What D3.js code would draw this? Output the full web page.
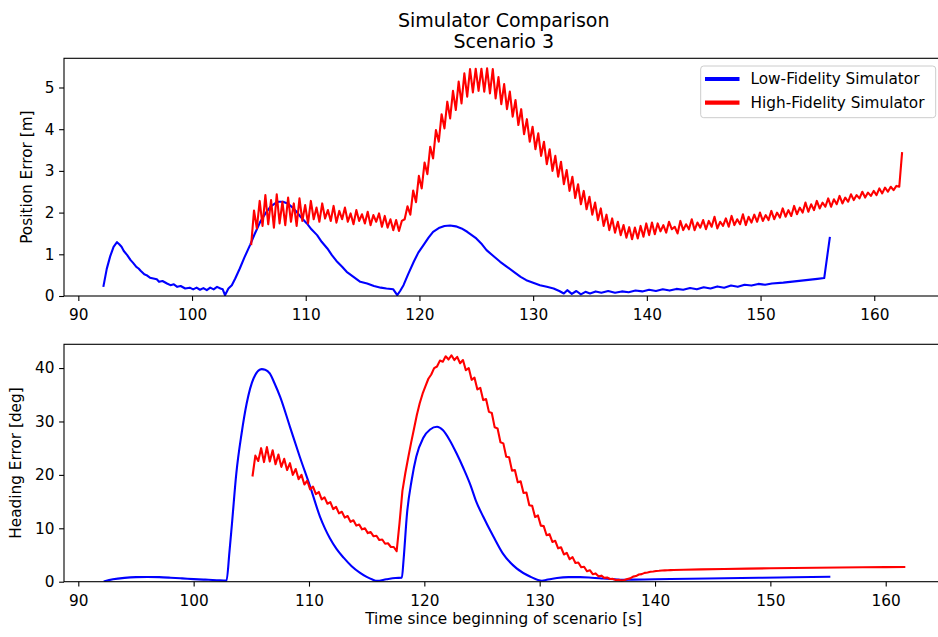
<!DOCTYPE html>
<html>
<head>
<meta charset="utf-8">
<script src="https://cdn.jsdelivr.net/npm/d3@7"></script>
<style>
  html, body { margin: 0; padding: 0; background: #fff; }
  svg { display: block; }
  text { font-family: "DejaVu Sans", sans-serif; fill: #000; }
</style>
</head>
<body>
<svg id="chart" width="938" height="637"></svg>
<script>
// ---- Position error [m] ----
// Low-fidelity simulator: sample times and values
const posLowTime = [92.2,92.5,92.8,93.1,93.4,93.6,93.8,94.0,94.3,94.6,94.8,95.1,95.3,95.5,95.8,96.0,96.3,96.6,96.9,97.1,97.4,97.8,98.1,98.4,98.7,99.0,99.4,99.8,100.1,100.4,100.7,101.0,101.3,101.6,101.9,102.2,102.5,102.7,102.9,103.2,103.5,103.8,104.2,104.6,105.1,105.5,106.0,106.5,106.9,107.3,107.6,108.0,108.4,108.8,109.2,109.6,110.1,110.5,111.0,111.4,111.9,112.3,112.7,113.2,113.6,114.2,114.8,115.4,116.0,116.6,117.1,117.7,118.05,118.3,118.6,119.0,119.5,119.9,120.4,120.8,121.2,121.7,122.2,122.7,123.2,123.7,124.2,124.6,125.0,125.5,125.9,126.5,127.1,127.7,128.3,128.9,129.4,130.0,130.6,131.2,131.8,132.3,132.7,133.0,133.4,133.8,134.2,134.6,135.0,135.5,136.0,136.6,137.2,137.8,138.4,139.0,139.6,140.2,140.8,141.4,142.0,142.6,143.2,143.8,144.4,145.0,145.6,146.2,146.8,147.4,148.0,148.6,149.2,149.8,150.4,151.0,152.0,153.0,154.0,155.0,155.6,156.1];
const posLow = [0.22,0.65,0.95,1.18,1.29,1.24,1.18,1.08,0.98,0.86,0.80,0.70,0.66,0.60,0.52,0.50,0.44,0.42,0.40,0.34,0.36,0.30,0.26,0.28,0.22,0.24,0.18,0.20,0.16,0.20,0.15,0.19,0.14,0.20,0.16,0.22,0.18,0.16,0.02,0.18,0.26,0.42,0.66,0.92,1.22,1.48,1.78,2.00,2.14,2.22,2.26,2.26,2.22,2.13,2.02,1.88,1.74,1.60,1.46,1.30,1.14,0.98,0.84,0.70,0.58,0.46,0.34,0.30,0.24,0.20,0.18,0.16,0.02,0.12,0.26,0.52,0.82,1.04,1.24,1.40,1.54,1.63,1.68,1.69,1.67,1.62,1.54,1.46,1.38,1.24,1.10,0.96,0.82,0.70,0.58,0.46,0.38,0.32,0.26,0.22,0.18,0.12,0.06,0.14,0.05,0.12,0.04,0.10,0.06,0.11,0.08,0.12,0.08,0.11,0.09,0.13,0.11,0.15,0.12,0.16,0.13,0.17,0.15,0.19,0.16,0.21,0.18,0.23,0.20,0.25,0.22,0.27,0.25,0.29,0.27,0.30,0.32,0.35,0.38,0.41,0.43,1.42];

// High-fidelity simulator: logged every 0.25 s from 105.2 s
const posHighStart = 105.2;
const posHighStep = 0.25;
const posHigh = [1.22,2.05,1.62,2.28,1.68,2.42,1.72,2.30,1.64,2.44,1.74,2.26,1.70,2.36,1.78,2.22,1.68,2.34,1.80,2.18,1.74,2.28,1.84,2.12,1.78,2.22,1.86,2.06,1.80,2.16,1.76,2.04,1.84,2.12,1.78,1.98,1.72,2.06,1.80,1.96,1.74,2.02,1.70,1.94,1.78,1.98,1.66,1.92,1.64,1.84,1.58,1.82,1.56,1.80,1.84,2.15,
  1.95,2.53,2.25,2.88,2.58,3.20,2.92,3.58,3.30,3.98,3.70,4.36,4.02,4.66,4.26,4.92,4.46,5.14,4.62,5.34,4.78,5.44,4.88,5.45,4.92,5.45,4.90,5.46,4.86,5.44,4.74,5.25,4.60,5.08,4.48,4.90,4.30,4.70,4.10,4.48,3.88,4.24,3.70,4.06,3.52,3.90,3.36,3.70,3.16,3.52,3.00,3.36,2.86,3.22,2.68,3.02,2.52,2.86,2.35,2.68,2.20,2.52,2.08,2.38,1.95,2.24,1.82,2.10,1.68,1.95,1.58,1.86,1.52,1.78,1.46,1.70,1.40,1.65,1.36,1.64,1.38,1.68,1.42,1.74,1.46,1.76,1.48,
  1.74,1.55,1.70,1.52,1.78,1.60,1.66,1.50,1.80,1.58,1.72,1.60,1.84,1.58,1.76,1.64,1.82,1.60,1.80,1.66,1.90,1.62,1.78,1.68,1.86,1.66,1.92,1.70,1.84,1.72,1.96,1.70,1.90,1.76,1.95,1.78,2.00,1.80,1.94,1.82,2.04,1.84,2.00,1.88,2.10,1.90,2.06,1.92,2.16,1.96,2.12,2.00,2.24,2.02,2.20,2.06,2.28,2.10,2.24,2.14,2.34,2.14,2.32,2.20,2.40,2.22,2.36,2.26,2.44,2.30,2.42,2.34,2.50,2.36,2.48,2.40,2.52,2.42,2.58,2.46,2.60,2.50,2.62,2.54,2.64,2.62,3.45];

// ---- Heading error [deg] ----
const headLowTime = [92.2,93.0,94.0,95.0,96.0,97.0,98.0,99.0,100.0,101.0,102.0,102.85,103.1,103.3,103.7,104.16,104.6,105.2,105.9,106.2,106.6,107.0,107.5,108.35,109.2,110.1,110.95,111.4,111.8,112.4,113.0,113.7,114.4,115.0,115.5,115.9,116.7,117.5,118.05,118.2,118.5,118.9,119.3,119.9,120.5,121.1,121.6,122.2,122.8,123.4,124.0,124.5,125.1,126.0,126.8,128.0,129.2,130.2,130.6,131.5,132.5,133.5,134.5,135.5,136.5,137.2,138.0,140.0,143.0,146.0,149.0,152.0,155.2];
const headLow = [0.05,0.45,0.72,0.85,0.88,0.85,0.75,0.62,0.48,0.38,0.28,0.2,5.5,10.3,20.3,27.8,33.4,38.1,39.8,39.7,39.0,37.2,34.6,29.0,23.4,17.8,12.2,9.9,8.2,6.1,4.5,2.9,1.7,0.9,0.4,0.15,0.45,0.7,0.75,4.1,12.8,19.0,23.4,26.9,28.5,29.0,28.4,26.5,24.0,21.2,18.1,15.0,12.2,8.4,5.3,2.5,0.94,0.19,0.35,0.7,0.85,0.85,0.75,0.6,0.45,0.35,0.38,0.45,0.55,0.64,0.73,0.82,0.94];

// High-fidelity heading: 0.25 s log from 105.1 s, then a sparser tail
const headHighStart = 105.1;
const headHighStep = 0.25;
const headHigh = [19.7,23.6,22.6,25.0,22.4,25.2,22.5,24.6,22.0,23.8,21.5,23.0,20.9,22.2,20.0,21.1,19.2,20.0,18.2,18.9,17.3,17.8,16.4,16.8,15.4,15.8,14.6,14.9,13.6,14.0,12.8,13.1,12.0,12.3,11.2,11.5,10.5,10.7,9.8,10.0,9.1,9.3,8.5,8.6,7.8,7.9,7.1,7.2,6.5,6.5,5.7,
  11.0,17.0,20.3,23.2,26.0,28.6,31.2,33.4,35.2,36.6,38.0,38.8,40.0,40.3,41.4,41.2,42.2,41.6,42.4,
  41.5,42.1,40.9,41.5,39.6,40.0,37.8,38.2,36.0,36.3,34.0,34.2,31.8,31.6,28.9,28.7,26.1,25.9,23.4,23.3,20.8,20.9,18.6,18.8,16.6,16.7,14.3,14.2,12.1,12.4,10.5,10.4,8.7,8.9,7.45,7.65,6.25,6.45,5.1,5.4,4.2,4.6,3.5,3.6,2.7,2.8,1.95,2.15,1.4,1.55,1.0,1.13,0.72,0.78,0.5,0.52,0.33,0.34,0.2,0.32,0.5,0.62,0.95,1.05,1.35,1.42,1.65,1.72,1.85,1.9,2.0,2.04,2.1,2.12,2.15,2.17,2.2];
const headHighTailTime = [142.5,144,146,148,150,152,154,156,158,160,161.7];
const headHighTail = [2.24,2.3,2.38,2.45,2.51,2.57,2.62,2.66,2.7,2.73,2.76];

// ---- Axis ticks and labels ----
const xTicks = [90,100,110,120,130,140,150,160];
const posTicks = [0,1,2,3,4,5];
const headTicks = [0,10,20,30,40];
const seriesNames = ["Low-Fidelity Simulator", "High-Fidelity Simulator"];
const seriesColors = ["#0000ff", "#ff0000"];

// Build point lists
const zip = (ts, vs) => ts.map((t, i) => ({t, v: vs[i]}));
const sampled = (t0, dt, vs) => vs.map((v, i) => ({t: t0 + i * dt, v}));
const posLowPts = zip(posLowTime, posLow);
const posHighPts = sampled(posHighStart, posHighStep, posHigh);
const headLowPts = zip(headLowTime, headLow);
const headHighPts = sampled(headHighStart, headHighStep, headHigh).concat(zip(headHighTailTime, headHighTail));

const svg = d3.select("#chart");
const FS = 15.3;
const left = 64, right = 943.5;

const panels = [
  {top: 58.3, bottom: 296, xDom: [88.74, 166.09], yDom: [0, 5.70], yTicks: posTicks,
   ylabel: "Position Error [m]", ylabelX: 32, series: [posLowPts, posHighPts], curves: [d3.curveLinear, d3.curveLinear]},
  {top: 344.3, bottom: 581.7, xDom: [88.76, 165.01], yDom: [0, 44.45], yTicks: headTicks,
   ylabel: "Heading Error [deg]", ylabelX: 20.5, series: [headLowPts, headHighPts], curves: [d3.curveMonotoneX, d3.curveLinear]}
];

panels.forEach(p => {
  const x = d3.scaleLinear().domain(p.xDom).range([left, right]);
  const y = d3.scaleLinear().domain(p.yDom).range([p.bottom, p.top]);

  const clipId = "clip" + Math.round(p.top);
  svg.append("clipPath").attr("id", clipId).append("rect")
    .attr("x", left).attr("y", p.top).attr("width", right - left).attr("height", p.bottom - p.top);

  const g = svg.append("g").attr("clip-path", `url(#${clipId})`);
  p.series.forEach((pts, k) => {
    const line = d3.line().x(d => x(d.t)).y(d => y(d.v)).curve(p.curves[k]);
    g.append("path").datum(pts)
      .attr("d", line)
      .attr("fill", "none")
      .attr("stroke", seriesColors[k])
      .attr("stroke-width", 2.1)
      .attr("stroke-linejoin", "round")
      .attr("stroke-linecap", "butt");
  });

  // frame
  svg.append("rect")
    .attr("x", left).attr("y", p.top)
    .attr("width", right - left).attr("height", p.bottom - p.top)
    .attr("fill", "none").attr("stroke", "#000").attr("stroke-width", 1.1);

  const xa = svg.append("g").attr("transform", `translate(0,${p.bottom})`)
    .call(d3.axisBottom(x).tickValues(xTicks).tickFormat(d3.format("d"))
      .tickSize(4.9).tickSizeOuter(0).tickPadding(8.4));
  const ya = svg.append("g").attr("transform", `translate(${left},0)`)
    .call(d3.axisLeft(y).tickValues(p.yTicks).tickFormat(d3.format("d"))
      .tickSize(4.9).tickSizeOuter(0).tickPadding(4.6));
  [xa, ya].forEach(a => {
    a.select(".domain").remove();
    a.selectAll(".tick line").attr("stroke", "#000").attr("stroke-width", 1.1);
    a.selectAll(".tick text").attr("font-family", "DejaVu Sans").attr("font-size", FS).attr("fill", "#000");
  });

  svg.append("text")
    .attr("transform", `translate(${p.ylabelX},${(p.top + p.bottom) / 2}) rotate(-90)`)
    .attr("text-anchor", "middle")
    .attr("font-size", FS)
    .text(p.ylabel);
});

// title
const cx = (left + right) / 2;
svg.append("text").attr("x", cx).attr("y", 26.7).attr("text-anchor", "middle")
  .attr("font-size", 19).text("Simulator Comparison");
svg.append("text").attr("x", cx).attr("y", 48.3).attr("text-anchor", "middle")
  .attr("font-size", 19).text("Scenario 3");

// x label
svg.append("text").attr("x", cx).attr("y", 624).attr("text-anchor", "middle")
  .attr("font-size", FS).text("Time since beginning of scenario [s]");

// legend
const lg = svg.append("g");
lg.append("rect").attr("x", 700.7).attr("y", 66).attr("width", 235).attr("height", 51.7)
  .attr("rx", 3).attr("fill", "#fff").attr("fill-opacity", 0.8)
  .attr("stroke", "#cccccc").attr("stroke-width", 1);
seriesNames.forEach((name, k) => {
  const yy = 79 + k * 23.6;
  lg.append("line").attr("x1", 705).attr("x2", 739.5).attr("y1", yy).attr("y2", yy)
    .attr("stroke", seriesColors[k]).attr("stroke-width", 4.2);
  lg.append("text").attr("x", 750.5).attr("y", yy + 5.3).attr("font-size", FS).text(name);
});
</script>
</body>
</html>
